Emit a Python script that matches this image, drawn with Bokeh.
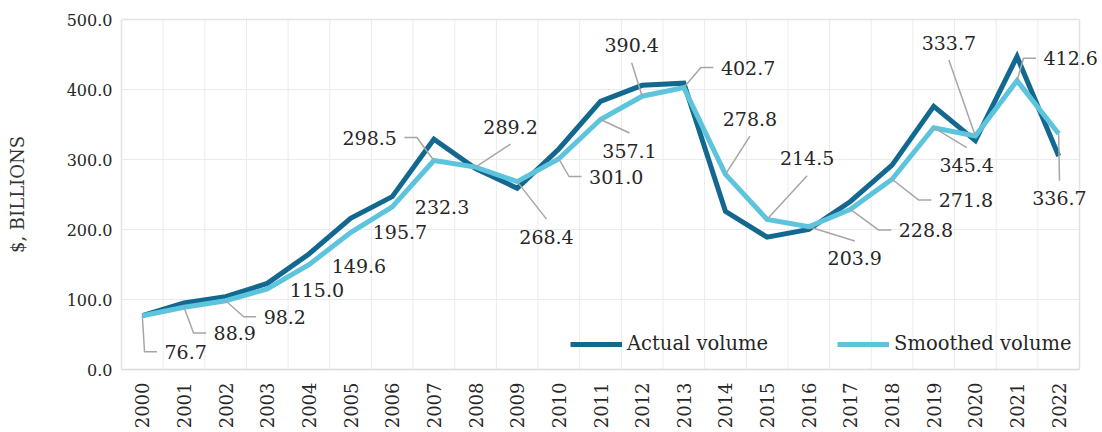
import math
from bokeh.plotting import figure
from bokeh.models import (Range1d, FixedTicker, Legend, LegendItem, ColumnDataSource,
                          PrintfTickFormatter, LabelSet)
from bokeh.core.properties import value
from bokeh.embed import file_html
from bokeh.resources import INLINE

# ---------------- data ----------------
years = ["2000", "2001", "2002", "2003", "2004", "2005", "2006", "2007", "2008", "2009",
         "2010", "2011", "2012", "2013", "2014", "2015", "2016", "2017", "2018", "2019",
         "2020", "2021", "2022"]
actual_volume = [77, 95, 104, 123, 165, 216, 247, 329, 287, 259,
                 315, 383, 406, 409, 226, 189, 200, 240, 292, 376,
                 327, 447, 305]
smoothed_volume = [76.7, 88.9, 98.2, 115.0, 149.6, 195.7, 232.3, 298.5, 289.2, 268.4,
                   301.0, 357.1, 390.4, 402.7, 278.8, 214.5, 203.9, 228.8, 271.8, 345.4,
                   333.7, 412.6, 336.7]
y_ticks = [0, 100, 200, 300, 400, 500]

# ---------------- label placement (style: screen-pixel offsets from the point) ----------------
label_style = [
    (22.2, 36, "left", "side"),
    (29.6, 25.7, "left", "side"),
    (38, 16, "left", "side"),
    (22.4, 0.5, "left", "none"),
    (22.8, 1, "left", "none"),
    (22.2, -0.5, "left", "none"),
    (22.6, 0, "left", "none"),
    (-37, -23, "right", "side"),
    (35, -40.5, "center", "bottom"),
    (29.3, 55, "center", "top"),
    (30.2, 17.7, "left", "side"),
    (29, 31, "center", "top"),
    (-10.5, -51, "center", "bottom"),
    (37.1, -20, "left", "side"),
    (24.5, -55.8, "center", "bottom"),
    (40, -61, "center", "bottom"),
    (46, 31.7, "center", "top"),
    (48.3, 20.7, "left", "side"),
    (46.7, 20.8, "left", "side"),
    (33, 37.3, "center", "top"),
    (-26.5, -93.4, "center", "bottom"),
    (26.5, -22.4, "left", "side"),
    (0.8, 64.5, "center", "top"),
]

FONT = "DejaVu Serif"
TEXT = "#262626"
DARK = "#13688f"
LIGHT = "#5cc4dc"
LEADER = "#a6a6a6"
GRID = "#ebebeb"
EDGE = "#e3e3e3"
BASE = "#d9d9d9"

# plot geometry (pixels)
CAT_W = 958.0 / len(years)     # px per category
VAL_PX = 350.0 / 500.0         # px per value unit
PAD_L, PAD_R, PAD_V = 2, 22, 2  # extra frame room so labels are not clipped

X_LO, X_HI = -0.5, len(years) - 0.5
X0 = X_LO - PAD_L / CAT_W
X1 = X_HI + PAD_R / CAT_W
Y0 = y_ticks[0] - PAD_V / VAL_PX
Y1 = y_ticks[-1] + PAD_V / VAL_PX
FRAME_W = int(round(958 + PAD_L + PAD_R))
FRAME_H = int(round(350 + 2 * PAD_V))

p = figure(frame_width=FRAME_W, frame_height=FRAME_H,
           x_range=Range1d(X0, X1), y_range=Range1d(Y0, Y1),
           output_backend="svg", toolbar_location=None,
           min_border_left=119, min_border_top=17, min_border_right=0, min_border_bottom=61)
p.background_fill_color = "white"
p.border_fill_color = "white"
p.outline_line_color = None
p.xgrid.visible = False
p.ygrid.visible = False

xi = list(range(len(years)))

# grid drawn inside the plotting area only
gx_xs, gx_ys = [], []
for i in range(len(years) + 1):
    gx_xs.append([i - 0.5, i - 0.5])
    gx_ys.append([y_ticks[0], y_ticks[-1]])
p.multi_line(gx_xs[1:-1], gx_ys[1:-1], line_color=GRID, line_width=1)
gy_xs, gy_ys = [], []
for t in y_ticks[1:-1]:
    gy_xs.append([X_LO, X_HI])
    gy_ys.append([t, t])
p.multi_line(gy_xs, gy_ys, line_color=GRID, line_width=1)
# frame edges
p.multi_line([[X_LO, X_LO], [X_HI, X_HI], [X_LO, X_HI]],
             [[y_ticks[0], y_ticks[-1]], [y_ticks[0], y_ticks[-1]], [y_ticks[-1], y_ticks[-1]]],
             line_color=EDGE, line_width=1.5)
p.line([X_LO, X_HI], [y_ticks[0], y_ticks[0]], line_color=BASE, line_width=1.5)

# axes
p.xaxis.ticker = FixedTicker(ticks=xi)
p.xaxis.major_label_overrides = {i: years[i] for i in xi}
p.xaxis.major_label_orientation = math.pi / 2
p.xaxis.major_label_standoff = 11
p.yaxis.ticker = FixedTicker(ticks=y_ticks)
p.yaxis.formatter = PrintfTickFormatter(format="%.1f")
p.yaxis.major_label_standoff = 7
p.yaxis.axis_label = "$, BILLIONS"
p.yaxis.axis_label_standoff = 36
p.yaxis.axis_label_text_font = FONT
p.yaxis.axis_label_text_font_size = "18px"
p.yaxis.axis_label_text_font_style = "normal"
p.yaxis.axis_label_text_color = "#333333"
for ax in (p.xaxis, p.yaxis):
    ax.axis_line_color = None
    ax.major_tick_line_color = None
    ax.minor_tick_line_color = None
    ax.major_tick_out = 0
    ax.major_tick_in = 0
    ax.major_label_text_font = FONT
    ax.major_label_text_color = TEXT
p.xaxis.major_label_text_font_size = "18px"
p.yaxis.major_label_text_font_size = "16px"

# series
r_act = p.line(xi, actual_volume, line_color=DARK, line_width=5, line_join="miter")
r_smo = p.line(xi, smoothed_volume, line_color=LIGHT, line_width=5, line_join="miter")

# labels + leader lines
groups = {"left": {"x": [], "y": [], "t": []},
          "center": {"x": [], "y": [], "t": []},
          "right": {"x": [], "y": [], "t": []}}
lead_xs, lead_ys = [], []
for i, (dx, dy, align, kind) in enumerate(label_style):
    px, py = xi[i], smoothed_volume[i]
    tx = px + dx / CAT_W
    ty = py - dy / VAL_PX
    g = groups[align]
    g["x"].append(tx)
    g["y"].append(ty)
    g["t"].append(f"{smoothed_volume[i]:.1f}")
    if kind == "side":
        sgn = -1 if align == "left" else 1
        ex = tx + sgn * 7.5 / CAT_W
        bx = tx + sgn * 20 / CAT_W
        lead_xs.append([px, bx, ex])
        lead_ys.append([py, ty, ty])
    elif kind == "top":
        lead_xs.append([px, tx])
        lead_ys.append([py, ty + 17.5 / VAL_PX])
    elif kind == "bottom":
        lead_xs.append([px, tx])
        lead_ys.append([py, ty - 17.5 / VAL_PX])

p.multi_line(lead_xs, lead_ys, line_color=LEADER, line_width=1.5)

for align, g in groups.items():
    src = ColumnDataSource(dict(x=g["x"], y=g["y"], text=g["t"]))
    ls = LabelSet(x="x", y="y", text="text", source=src, text_align=align,
                  text_baseline="middle", text_font=value(FONT),
                  text_font_size=value("19px"), text_color=TEXT)
    p.add_layout(ls)

legend = Legend(items=[LegendItem(label="Actual volume", renderers=[r_act]),
                       LegendItem(label="Smoothed volume", renderers=[r_smo])],
                orientation="horizontal", location=(451, 16),
                padding=0, margin=0, spacing=69, label_standoff=5,
                glyph_width=52, glyph_height=20, label_height=20,
                border_line_color=None, background_fill_alpha=0,
                label_text_font=FONT, label_text_font_size="19.5px",
                label_text_color=TEXT)
p.add_layout(legend)

open("out.html", "w").write(file_html(p, INLINE))
